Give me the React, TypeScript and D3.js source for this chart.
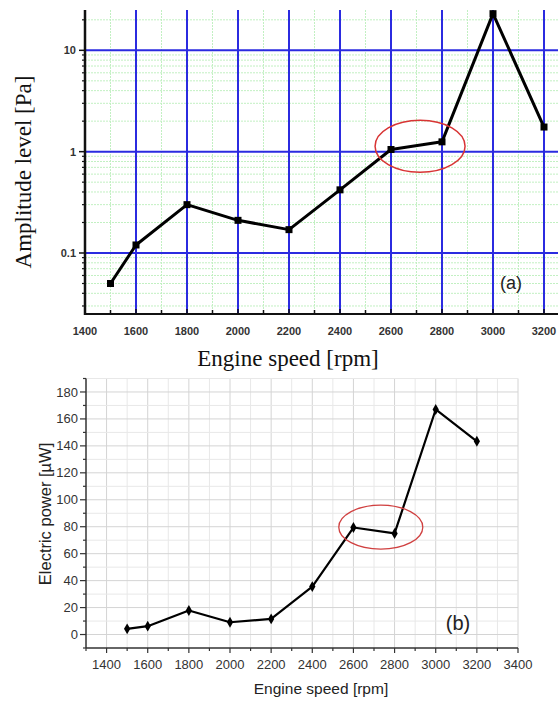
import React, { useEffect, useRef } from 'react'
import * as d3 from 'd3'

// engine speeds measured (rpm)
const speeds = [1500, 1600, 1800, 2000, 2200, 2400, 2600, 2800, 3000, 3200]
// (a) amplitude level [Pa], log scale
const amplitudePa = [0.05, 0.12, 0.3, 0.21, 0.17, 0.42, 1.05, 1.25, 23, 1.75]
// (b) electric power [µW]
const powerUW = [4.2, 6.2, 17.8, 9.1, 11.6, 35.6, 79.4, 75, 167, 143.4]

const ampSpeedTicks = [1400, 1600, 1800, 2000, 2200, 2400, 2600, 2800, 3000, 3200]
const ampTicks = [0.1, 1, 10]
const powerSpeedTicks = [1400, 1600, 1800, 2000, 2200, 2400, 2600, 2800, 3000, 3200, 3400]
const powerTicks = [0, 20, 40, 60, 80, 100, 120, 140, 160, 180]

// highlighted region (centre speed, centre value)
const ampHighlight = { speed: 2714, value: 1.13 }
const powerHighlight = { speed: 2733, value: 79.7 }

const W = 558
const H = 702

export default function App() {
  const svgRef = useRef<SVGSVGElement>(null)

  useEffect(() => {
    const svg = d3.select(svgRef.current)
    svg.selectAll('*').remove()

    // ---------- (a) amplitude chart ----------
    const xa = d3.scaleLinear().domain([1400, 3260]).range([85, 559.3])
    const ya = d3.scaleLog().domain([0.025, 25]).range([314, 10])
    const top = svg.append('g')

    // minor green grid
    const minorX = d3.range(1500, 3260, 200)
    top.selectAll('.gxv').data(minorX).enter().append('line')
      .attr('x1', d => xa(d)).attr('x2', d => xa(d))
      .attr('y1', 10).attr('y2', 314)
      .attr('stroke', '#c2f0c2').attr('stroke-width', 1).attr('stroke-dasharray', '2,1')
    const minorY: number[] = []
    ;[0.01, 0.1, 1, 10].forEach(dec => {
      for (let m = 2; m <= 9; m++) {
        const v = dec * m
        if (v > 0.025 && v < 25) minorY.push(v)
      }
    })
    top.selectAll('.gxh').data(minorY).enter().append('line')
      .attr('x1', 85).attr('x2', W)
      .attr('y1', d => ya(d)).attr('y2', d => ya(d))
      .attr('stroke', '#c2f0c2').attr('stroke-width', 1).attr('stroke-dasharray', '2,1')

    // major blue grid
    top.selectAll('.bv').data(ampSpeedTicks.slice(1)).enter().append('line')
      .attr('x1', d => xa(d)).attr('x2', d => xa(d))
      .attr('y1', 10).attr('y2', 314)
      .attr('stroke', '#2b2be0').attr('stroke-width', 2)
    top.selectAll('.bh').data(ampTicks).enter().append('line')
      .attr('x1', 85).attr('x2', W)
      .attr('y1', d => ya(d)).attr('y2', d => ya(d))
      .attr('stroke', '#2b2be0').attr('stroke-width', 2)

    // x axis (ticks inward)
    const xAxisA = top.append('g').attr('transform', 'translate(0,314)')
    xAxisA.append('line').attr('x1', 85).attr('x2', W).attr('stroke', '#111').attr('stroke-width', 2)
    xAxisA.selectAll('.t').data(d3.range(1400, 3260, 100)).enter().append('line')
      .attr('x1', d => xa(d)).attr('x2', d => xa(d))
      .attr('y1', 0).attr('y2', d => (d % 200 === 0 ? -5 : -4))
      .attr('stroke', '#111').attr('stroke-width', 1.5)
    xAxisA.selectAll('text').data(ampSpeedTicks).enter().append('text')
      .attr('x', d => xa(d)).attr('y', 21)
      .attr('text-anchor', 'middle')
      .style('font-family', 'Liberation Sans, Arial, sans-serif')
      .style('font-size', '11px').style('font-weight', 'bold').attr('fill', '#333')
      .text(d => d)

    // y axis (log)
    const yAxisA = top.append('g').attr('transform', 'translate(85,0)')
    yAxisA.append('line').attr('y1', 10).attr('y2', 315).attr('stroke', '#111').attr('stroke-width', 2.5)
    yAxisA.selectAll('.mt').data(minorY).enter().append('line')
      .attr('x1', -3).attr('x2', 0).attr('y1', d => ya(d)).attr('y2', d => ya(d))
      .attr('stroke', '#111').attr('stroke-width', 1.2)
    yAxisA.selectAll('.Mt').data(ampTicks).enter().append('line')
      .attr('x1', -6).attr('x2', 0).attr('y1', d => ya(d)).attr('y2', d => ya(d))
      .attr('stroke', '#111').attr('stroke-width', 1.5)
    yAxisA.selectAll('text').data(ampTicks).enter().append('text')
      .attr('x', -9).attr('y', d => ya(d)).attr('dy', '0.35em')
      .attr('text-anchor', 'end')
      .style('font-family', 'Liberation Sans, Arial, sans-serif')
      .style('font-size', '11px').style('font-weight', 'bold').attr('fill', '#333')
      .text(d => d3.format('~g')(d))

    // data line
    const lineA = d3.line<number>().x((d, i) => xa(speeds[i])).y(d => ya(d))
    top.append('path').datum(amplitudePa).attr('d', lineA)
      .attr('fill', 'none').attr('stroke', '#000').attr('stroke-width', 3)
      .attr('stroke-linejoin', 'round')
    top.selectAll('.sq').data(amplitudePa).enter().append('rect')
      .attr('x', (d, i) => xa(speeds[i]) - 3.5).attr('y', d => ya(d) - 3.5)
      .attr('width', 7).attr('height', 7).attr('fill', '#000')

    top.append('ellipse')
      .attr('cx', xa(ampHighlight.speed)).attr('cy', ya(ampHighlight.value))
      .attr('rx', 45).attr('ry', 26)
      .attr('fill', 'none').attr('stroke', '#d83434').attr('stroke-width', 1.5)

    top.append('text').attr('x', 511).attr('y', 283).attr('dy', '0.35em')
      .attr('text-anchor', 'middle')
      .style('font-family', 'Liberation Sans, Arial, sans-serif')
      .style('font-size', '18px').attr('fill', '#222').text('(a)')

    top.append('text')
      .attr('transform', 'translate(31,172) rotate(-90)')
      .attr('text-anchor', 'middle')
      .style('font-family', 'Liberation Serif, Times New Roman, serif')
      .style('font-size', '23px').attr('fill', '#111')
      .text('Amplitude level [Pa]')
    top.append('text').attr('x', 288).attr('y', 366)
      .attr('text-anchor', 'middle')
      .style('font-family', 'Liberation Serif, Times New Roman, serif')
      .style('font-size', '23px').attr('fill', '#111')
      .text('Engine speed [rpm]')

    // ---------- (b) power chart ----------
    const xb = d3.scaleLinear().domain([1300, 3400]).range([86, 518])
    const yb = d3.scaleLinear().domain([-10, 190]).range([648, 378.5])
    const bot = svg.append('g')

    const gridXb = d3.range(1400, 3401, 100)
    bot.selectAll('.vg').data(gridXb).enter().append('line')
      .attr('x1', d => xb(d)).attr('x2', d => xb(d))
      .attr('y1', yb(190)).attr('y2', yb(-10))
      .attr('stroke', d => (d % 200 === 0 ? '#d4d4d4' : '#e8e8e8')).attr('stroke-width', 1)
    const gridYb = d3.range(0, 191, 10)
    bot.selectAll('.hg').data(gridYb).enter().append('line')
      .attr('x1', xb(1300)).attr('x2', xb(3400))
      .attr('y1', d => yb(d)).attr('y2', d => yb(d))
      .attr('stroke', d => (d % 20 === 0 ? '#d4d4d4' : '#e8e8e8')).attr('stroke-width', 1)

    const xAxisB = bot.append('g').attr('transform', `translate(0,${yb(-10)})`)
    xAxisB.append('line').attr('x1', xb(1300)).attr('x2', xb(3400)).attr('stroke', '#333').attr('stroke-width', 1.5)
    xAxisB.selectAll('.t').data(d3.range(1300, 3401, 100)).enter().append('line')
      .attr('x1', d => xb(d)).attr('x2', d => xb(d))
      .attr('y1', 0).attr('y2', d => (d % 200 === 0 ? 5 : 3))
      .attr('stroke', '#333').attr('stroke-width', 1.2)
    xAxisB.selectAll('text').data(powerSpeedTicks).enter().append('text')
      .attr('x', d => xb(d)).attr('y', 16).attr('dy', '0.35em')
      .attr('text-anchor', 'middle')
      .style('font-family', 'Liberation Sans, Arial, sans-serif')
      .style('font-size', '13px').attr('fill', '#333')
      .text(d => d)

    const yAxisB = bot.append('g').attr('transform', `translate(${xb(1300)},0)`)
    yAxisB.append('line').attr('y1', yb(190)).attr('y2', yb(-10)).attr('stroke', '#333').attr('stroke-width', 1.5)
    yAxisB.selectAll('.t').data(d3.range(-10, 191, 10)).enter().append('line')
      .attr('x1', d => (d % 20 === 0 ? -6 : -3)).attr('x2', 0)
      .attr('y1', d => yb(d)).attr('y2', d => yb(d))
      .attr('stroke', '#333').attr('stroke-width', 1.2)
    yAxisB.selectAll('text').data(powerTicks).enter().append('text')
      .attr('x', -8).attr('y', d => yb(d)).attr('dy', '0.35em')
      .attr('text-anchor', 'end')
      .style('font-family', 'Liberation Sans, Arial, sans-serif')
      .style('font-size', '13px').attr('fill', '#333')
      .text(d => d)

    const lineB = d3.line<number>().x((d, i) => xb(speeds[i])).y(d => yb(d))
    bot.append('path').datum(powerUW).attr('d', lineB)
      .attr('fill', 'none').attr('stroke', '#000').attr('stroke-width', 2.2)
      .attr('stroke-linejoin', 'round')
    bot.selectAll('.dm').data(powerUW).enter().append('path')
      .attr('transform', (d, i) => `translate(${xb(speeds[i])},${yb(d)})`)
      .attr('d', d3.symbol().type(d3.symbolDiamond).size(34)())
      .attr('fill', '#000')

    bot.append('ellipse')
      .attr('cx', xb(powerHighlight.speed)).attr('cy', yb(powerHighlight.value))
      .attr('rx', 42).attr('ry', 22)
      .attr('fill', 'none').attr('stroke', '#d04040').attr('stroke-width', 1.3)

    bot.append('text').attr('x', 458).attr('y', 623).attr('dy', '0.35em')
      .attr('text-anchor', 'middle')
      .style('font-family', 'Liberation Sans, Arial, sans-serif')
      .style('font-size', '20px').attr('fill', '#222').text('(b)')

    bot.append('text')
      .attr('transform', 'translate(51,514) rotate(-90)')
      .attr('text-anchor', 'middle')
      .style('font-family', 'Liberation Sans, Arial, sans-serif')
      .style('font-size', '16.5px').attr('fill', '#222')
      .text('Electric power [µW]')
    bot.append('text').attr('x', 321).attr('y', 694)
      .attr('text-anchor', 'middle')
      .style('font-family', 'Liberation Sans, Arial, sans-serif')
      .style('font-size', '15.5px').attr('fill', '#222')
      .text('Engine speed [rpm]')
  }, [])

  return (
    <svg ref={svgRef} width={W} height={H}
      style={{ position: 'absolute', left: 0, top: 0, background: '#fff' }} />
  )
}
